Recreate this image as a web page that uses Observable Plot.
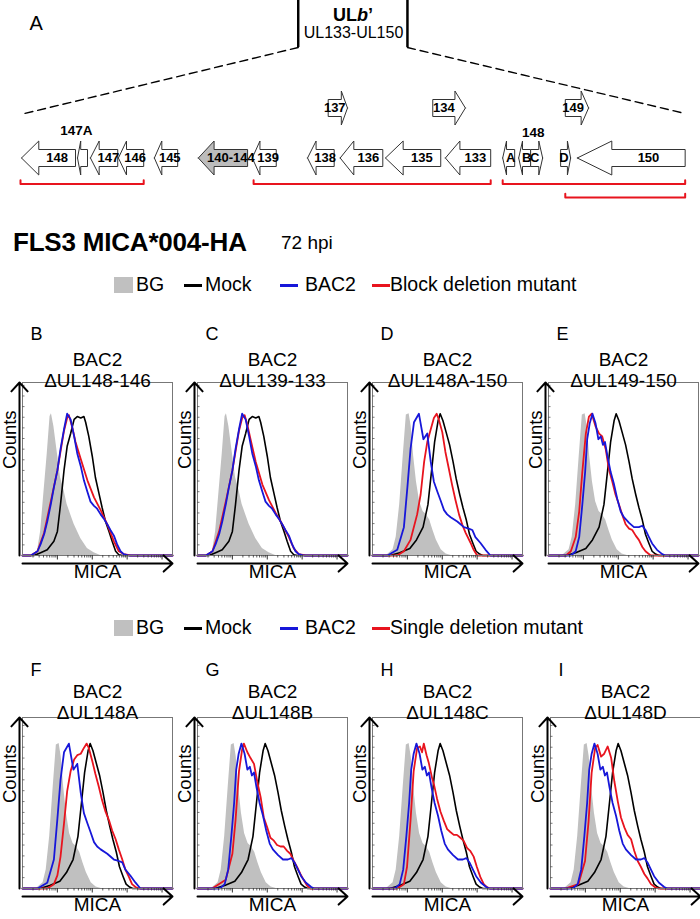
<!DOCTYPE html>
<html><head><meta charset="utf-8">
<script src="https://cdn.jsdelivr.net/npm/d3@7"></script>
<script src="https://cdn.jsdelivr.net/npm/@observablehq/plot@0.6"></script>
<style>
body{margin:0;background:#fff;font-family:"Liberation Sans",Arial,sans-serif;}
#root{position:relative;width:700px;height:919px;overflow:hidden;background:#fff;}
.abs{position:absolute;line-height:1;white-space:nowrap;color:#000;}
.sw{position:absolute;}
</style></head><body><div id="root"></div>
<script>
// ---------------- Panel A: gene map data (relative map position 0-100) ----------------
const GENE_NAMES  = ["148","","147","146","145","140-144","139","138","136","135","133","A","B","C","D","150","137","134","149"];
const GENE_START  = [0.15, 8.56, 10.5, 14.7, 20.1, 26.7, 34.8, 43.1, 48.0, 54.8, 63.8, 72.4, 74.8, 76.6, 81.1, 83.6, 46.2, 61.9, 81.8];
const GENE_END    = [8.26, 10.06, 14.6, 18.5, 23.6, 34.1, 38.4, 47.1, 54.4, 63.1, 70.6, 74.2, 76.6, 78.4, 82.6, 99.8, 49.1, 66.8, 85.3];
const GENE_STRAND = [-1,-1,-1,-1,-1,-1,-1,-1,-1,-1,-1,-1,-1,1,1,-1,1,1,1];
const GENE_TRACK  = [0,0,0,0,0,0,0,0,0,0,0,0,0,0,0,0,1,1,1];
const GENE_SHADED = ["140-144"];
const ABOVE_LABELS = ["147A","148"];
const ABOVE_X = [8.4, 77.0];
const ABOVE_Y = [0.55, 0.51];
const BRACKET_START = [0.0, 35.0, 72.4, 81.8];
const BRACKET_END   = [18.5, 70.6, 99.8, 99.8];
const BRACKET_LEVEL = [-0.52, -0.52, -0.52, -0.79];
const ZOOM_BOX_X = [41.7, 58.1];
const ZOOM_BOX_BOTTOM = 2.21;
const ZOOM_TO_X = [0.0, 99.8];
const ZOOM_TO_Y = [0.87, 0.89];
const REGION_LABEL = "UL133-UL150";

// ---------------- Histogram data: [log10 decade, % of max] ----------------
const BG_BC = [[0,0],[0.29,0],[0.43,3],[0.52,17],[0.62,46],[0.71,72],[0.79,98],[0.83,100],[0.90,91],[1.0,72],[1.09,55],[1.19,46],[1.28,36],[1.38,29],[1.48,22],[1.67,12],[1.86,5],[2.05,2],[2.24,0],[4.3,0]];
const MOCK_BC = [[0,0],[0.33,0],[0.52,2],[0.71,4],[0.90,10],[1.0,17],[1.09,36],[1.19,60],[1.28,77],[1.38,86],[1.48,96],[1.57,98],[1.67,97],[1.76,98],[1.81,94],[1.90,84],[2.0,70],[2.09,55],[2.19,44],[2.28,34],[2.38,24],[2.48,17],[2.57,10],[2.67,3],[2.76,0.5],[2.86,0],[4.3,0]];
const BAC2_BC = [[0,0],[0.24,0],[0.43,3],[0.52,8],[0.62,15],[0.71,24],[0.81,36],[0.90,48],[1.0,60],[1.09,75],[1.19,89],[1.28,100],[1.38,96],[1.48,84],[1.57,72],[1.67,63],[1.76,53],[1.86,45],[1.95,38],[2.05,35],[2.14,33],[2.24,29],[2.33,26],[2.43,22],[2.52,18],[2.62,14],[2.71,8],[2.81,3],[2.90,1],[3.05,0],[4.3,0]];
const MUT_B = [[0,0],[0.24,0],[0.43,3],[0.62,16],[0.81,38],[1.0,60],[1.19,88],[1.28,97],[1.33,99],[1.43,90],[1.52,80],[1.67,68],[1.86,53],[2.05,41],[2.24,32],[2.43,22],[2.62,10],[2.76,3],[2.90,1],[3.1,0],[4.3,0]];
const MUT_C = [[0,0],[0.24,0],[0.43,3],[0.62,17],[0.81,38],[1.0,60],[1.19,88],[1.28,97],[1.35,99],[1.43,92],[1.52,82],[1.67,66],[1.86,50],[2.05,39],[2.24,30],[2.43,22],[2.62,13],[2.76,5],[2.90,1],[3.1,0],[4.3,0]];

const BG_DI = [[0,0],[0.40,0],[0.59,4],[0.68,13],[0.78,36],[0.88,70],[0.97,99],[1.05,100],[1.11,91],[1.18,70],[1.26,52],[1.35,38],[1.45,31],[1.54,29],[1.64,25],[1.73,18],[1.83,11],[1.97,4],[2.11,1],[2.26,0],[4.3,0]];
const MOCK_DI = [[0,0],[0.50,0],[0.78,2],[1.07,5],[1.26,11],[1.45,20],[1.59,36],[1.69,59],[1.78,80],[1.88,95],[1.94,100],[2.02,95],[2.11,87],[2.21,78],[2.31,66],[2.40,54],[2.50,43],[2.59,34],[2.69,25],[2.78,15],[2.88,8.5],[2.97,3],[3.07,1],[3.16,0],[4.3,0]];
const BAC2_DF = [[0,0],[0.43,0],[0.71,4],[0.90,20],[1.0,48],[1.09,75],[1.19,94],[1.33,100],[1.46,82],[1.57,86],[1.67,66],[1.76,52],[1.86,45],[1.95,39],[2.05,32],[2.14,29],[2.24,27],[2.43,24],[2.62,20],[2.76,19],[2.86,18],[2.95,13],[3.09,9],[3.24,4],[3.38,0],[4.3,0]];
const BAC2_EGHI = [[0,0],[0.64,0],[0.78,3],[0.88,13],[0.97,36],[1.05,59],[1.11,82],[1.18,93],[1.26,100],[1.35,93],[1.43,82],[1.50,84],[1.56,78],[1.62,80],[1.69,70],[1.78,59],[1.88,50],[1.97,40],[2.07,31],[2.16,27],[2.31,23],[2.45,20],[2.59,20],[2.69,21],[2.78,18],[2.88,13],[2.97,8.5],[3.11,4],[3.26,1],[3.35,0],[4.3,0]];
const MUT_D = [[0,0],[0.71,0],[0.90,3],[1.09,11],[1.28,29],[1.38,43],[1.48,66],[1.57,80],[1.67,89],[1.76,97],[1.84,100],[1.90,96],[2.0,87],[2.09,73],[2.19,61],[2.28,50],[2.38,39],[2.48,29],[2.57,22],[2.67,16],[2.81,9],[2.90,4],[3.0,0],[4.3,0]];
const MUT_E = [[0,0],[0.50,0],[0.64,3],[0.78,13],[0.88,31],[0.97,59],[1.07,86],[1.16,98],[1.24,100],[1.35,91],[1.45,86],[1.54,84],[1.64,75],[1.73,61],[1.83,52],[1.92,43],[2.02,36],[2.11,29],[2.21,22],[2.31,19],[2.40,18],[2.50,14],[2.59,11],[2.69,6],[2.78,3],[2.93,0],[4.3,0]];
const MUT_F = [[0,0],[0.71,0],[0.90,3],[1.0,9],[1.09,22],[1.19,45],[1.28,67],[1.38,81],[1.48,89],[1.57,92],[1.67,93],[1.76,97],[1.84,100],[1.90,97],[2.0,88],[2.09,79],[2.19,70],[2.28,61],[2.38,53],[2.48,47],[2.57,40],[2.67,34],[2.76,27],[2.86,20],[2.95,13],[3.05,8],[3.14,3],[3.24,1],[3.33,0],[4.3,0]];
const MUT_G = [[0,0],[0.42,0],[0.81,6],[1.0,24],[1.09,47],[1.19,81],[1.28,96],[1.33,100],[1.43,94],[1.52,90],[1.62,86],[1.71,74],[1.81,63],[1.90,49],[2.0,42],[2.09,35],[2.19,33],[2.28,30],[2.38,29],[2.47,29],[2.57,26],[2.66,24],[2.76,19],[2.85,15],[2.95,10],[3.04,6],[3.14,2],[3.24,0],[4.3,0]];
const MUT_H = [[0,0],[0.71,0],[0.90,3],[0.99,15],[1.09,47],[1.18,81],[1.28,97],[1.36,98],[1.42,94],[1.47,100],[1.55,92],[1.61,87],[1.71,76],[1.76,72],[1.85,62],[1.95,53],[2.04,47],[2.14,41],[2.23,39],[2.33,37],[2.42,37],[2.52,35],[2.61,33],[2.71,28],[2.80,26],[2.90,22],[2.99,15],[3.09,8],[3.19,3],[3.28,1],[3.37,0],[4.3,0]];
const MUT_I = [[0,0],[0.42,0],[0.80,3],[0.99,19],[1.09,46],[1.18,80],[1.28,97],[1.35,99],[1.45,91],[1.54,93],[1.64,98],[1.74,90],[1.83,74],[1.93,60],[2.02,49],[2.12,42],[2.21,37],[2.31,34],[2.40,26],[2.50,19],[2.59,15],[2.69,10],[2.78,7],[2.88,3],[2.99,1],[3.09,0],[4.3,0]];

const PANEL_IDS = ["B","C","D","E","F","G","H","I"];
const PANEL_TITLES = ["ΔUL148-146","ΔUL139-133","ΔUL148A-150","ΔUL149-150","ΔUL148A","ΔUL148B","ΔUL148C","ΔUL148D"];
const STRAIN = "BAC2";
const X_LABEL = "MICA";
const Y_LABEL = "Counts";
const LEGEND_1 = ["BG","Mock","BAC2","Block deletion mutant"];
const LEGEND_2 = ["BG","Mock","BAC2","Single deletion mutant"];
const TITLE = "FLS3 MICA*004-HA";
const SUBTITLE = "72 hpi";

const PANELS = [
  {bg: BG_BC, mock: MOCK_BC, bac2: BAC2_BC, mut: MUT_B},
  {bg: BG_BC, mock: MOCK_BC, bac2: BAC2_BC, mut: MUT_C},
  {bg: BG_DI, mock: MOCK_DI, bac2: BAC2_DF, mut: MUT_D},
  {bg: BG_DI, mock: MOCK_DI, bac2: BAC2_EGHI, mut: MUT_E},
  {bg: BG_DI, mock: MOCK_DI, bac2: BAC2_DF, mut: MUT_F},
  {bg: BG_DI, mock: MOCK_DI, bac2: BAC2_EGHI, mut: MUT_G},
  {bg: BG_DI, mock: MOCK_DI, bac2: BAC2_EGHI, mut: MUT_H},
  {bg: BG_DI, mock: MOCK_DI, bac2: BAC2_EGHI, mut: MUT_I}
];

// ---------------- styling ----------------
const FONT = "'Liberation Sans', Arial, sans-serif";
const RED = "#e8141e", BLUE = "#1717d9", GRAY = "#c0c0c0";
const XMAX = 4.3;
const root = document.getElementById("root");

function place(el, left, top) { el.style.position = "absolute"; el.style.left = left + "px"; el.style.top = top + "px"; root.appendChild(el); return el; }
function txt(s, left, top, css) { const d = document.createElement("div"); d.className = "abs"; d.textContent = s; Object.assign(d.style, css || {}); return place(d, left, top); }

// ---------------- Panel A ----------------
(function geneMap() {
  const HH = 0.34, BH = 0.17, HEAD = 0.32;
  const polys = [];
  GENE_NAMES.forEach((name, i) => {
    const a = GENE_START[i], b = GENE_END[i], y0 = GENE_TRACK[i], h = HEAD * (b - a);
    let pts;
    if (GENE_STRAND[i] < 0) {
      pts = [[a,y0],[a+h,y0+HH],[a+h,y0+BH],[b,y0+BH],[b,y0-BH],[a+h,y0-BH],[a+h,y0-HH],[a,y0]];
    } else {
      pts = [[b,y0],[b-h,y0+HH],[b-h,y0+BH],[a,y0+BH],[a,y0-BH],[b-h,y0-BH],[b-h,y0-HH],[b,y0]];
    }
    pts.forEach(p => polys.push({gene: i, name, shaded: GENE_SHADED.includes(name), x: p[0], y: p[1]}));
  });
  const labels = GENE_NAMES.map((name, i) => {
    const a = GENE_START[i], b = GENE_END[i], h = HEAD * (b - a);
    const cx = GENE_STRAND[i] < 0 ? (a + h + b) / 2 : (a + b - h) / 2;
    return {name, x: cx, y: GENE_TRACK[i]};
  }).filter(d => d.name);
  const brackets = [];
  BRACKET_START.forEach((s, i) => {
    const e = BRACKET_END[i], L = BRACKET_LEVEL[i], t = 0.075;
    [[s, L + t],[s, L],[e, L],[e, L + t]].forEach(p => brackets.push({k: i, x: p[0], y: p[1]}));
  });
  const zoomLines = [];
  ZOOM_BOX_X.forEach((x, i) => { zoomLines.push({k: i, x, y: ZOOM_BOX_BOTTOM}); zoomLines.push({k: i, x: ZOOM_TO_X[i], y: ZOOM_TO_Y[i]}); });
  const svg = Plot.plot({
    width: 700, height: 210, margin: 0,
    style: {fontFamily: FONT, background: "transparent", overflow: "visible"},
    x: {domain: [0, 100], range: [20, 686], axis: null},
    y: {domain: [-1.05, 3.15], range: [210, 0], axis: null},
    marks: [
      Plot.ruleX(ZOOM_BOX_X, {x: d => d, y1: ZOOM_BOX_BOTTOM, y2: 3.15, stroke: "#000", strokeWidth: 2.5}),
      Plot.line(zoomLines, {x: "x", y: "y", z: "k", stroke: "#000", strokeWidth: 1.4, strokeDasharray: "8,5"}),
      Plot.text([REGION_LABEL], {x: 50, y: 2.51, fontSize: 16}),
      Plot.line(polys.filter(d => !d.shaded), {x: "x", y: "y", z: "gene", fill: "#fff", stroke: "#333", strokeWidth: 1, curve: "linear"}),
      Plot.line(polys.filter(d => d.shaded), {x: "x", y: "y", z: "gene", fill: "#bcbcbc", stroke: "#333", strokeWidth: 1, curve: "linear"}),
      Plot.text(labels, {x: "x", y: "y", text: "name", fontSize: 13, fontWeight: "bold"}),
      Plot.text(ABOVE_LABELS, {x: (d, i) => ABOVE_X[i], y: (d, i) => ABOVE_Y[i], text: d => d, fontSize: 13.5, fontWeight: "bold"}),
      Plot.line(brackets, {x: "x", y: "y", z: "k", stroke: "#e8141e", strokeWidth: 2}),
      Plot.text(["A"], {frameAnchor: "top-left", dx: 29, dy: 15, textAnchor: "start", fontSize: 20})
    ]
  });
  place(svg, 0, 0);
  const ul = document.createElement("div");
  ul.className = "abs";
  ul.innerHTML = "<b>UL<i>b</i>’</b>";
  Object.assign(ul.style, {fontSize: "18px", transform: "translateX(-50%)"});
  place(ul, 353, 6);
})();

// ---------------- Title ----------------
txt(TITLE, 13, 229, {fontSize: "26px", fontWeight: "bold", letterSpacing: "-0.2px"});
txt(SUBTITLE, 281, 233, {fontSize: "19px"});

// ---------------- Legends ----------------
function legend(labels, cy) {
  const swLeft = [114, 184, 280, 372], txLeft = [136, 205, 305, 390];
  const sq = document.createElement("div"); sq.className = "sw";
  Object.assign(sq.style, {width: "19px", height: "16px", background: GRAY}); place(sq, swLeft[0], cy - 8);
  [["#000", 1], [BLUE, 2], [RED, 3]].forEach(([c, i]) => {
    const l = document.createElement("div"); l.className = "sw";
    Object.assign(l.style, {width: "18px", height: "3px", background: c}); place(l, swLeft[i], cy - 1.5);
  });
  labels.forEach((s, i) => txt(s, txLeft[i], cy - 10, {fontSize: "19.5px"}));
}
legend(LEGEND_1, 285);
legend(LEGEND_2, 628);

// ---------------- Histogram panels ----------------
const X_MAJOR = [1, 2, 3, 4];
const X_MINOR = [];
for (let dec = 0; dec < 5; dec++) for (let k = 2; k < 10; k++) { const v = dec + Math.log10(k); if (v < XMAX) X_MINOR.push(v); }
const ROWS = [
  {top: 317, frameH: 173, bottom: 35, yMax: 122, letterDy: -55, t1Dy: -30, t2Dy: -9, lefts: [0, 175, 350, 526]},
  {top: 652, frameH: 171, bottom: 35, yMax: 118, letterDy: -54, t1Dy: -33, t2Dy: -12, lefts: [0, 175, 350, 528]}
];
function makePanel(i) {
  const row = ROWS[Math.floor(i / 4)], p = PANELS[i];
  const H = 65 + row.frameH + row.bottom;
  const uy = row.yMax / row.frameH, ux = XMAX / 150;
  const xy = {x: d => d[0], y: d => d[1]};
  const yTicks = d3.range(7.5, row.yMax, 7.5);
  const svg = Plot.plot({
    width: 175, height: H,
    marginTop: 65, marginLeft: 22, marginRight: 3, marginBottom: row.bottom,
    style: {fontFamily: FONT, background: "transparent", overflow: "visible"},
    x: {domain: [0, XMAX], axis: null},
    y: {domain: [0, row.yMax], axis: null},
    marks: [
      Plot.areaY(p.bg, {x: d => d[0], y: d => d[1], fill: GRAY}),
      Plot.line(p.mock, {...xy, stroke: "#000", strokeWidth: 1.6}),
      Plot.line(p.mut, {...xy, stroke: RED, strokeWidth: 1.8}),
      Plot.line(p.bac2, {...xy, stroke: BLUE, strokeWidth: 1.8}),
      Plot.frame({stroke: "#777", strokeWidth: 1}),
      Plot.ruleX(X_MINOR, {x: d => d, y1: 0, y2: -2.5 * uy, stroke: "#333", strokeWidth: 0.8}),
      Plot.ruleX(X_MAJOR, {x: d => d, y1: 0, y2: -4.5 * uy, stroke: "#333", strokeWidth: 1}),
      Plot.ruleY(yTicks, {y: d => d, x1: 0, x2: 2.5 * ux, stroke: "#555", strokeWidth: 0.8}),
      Plot.arrow([0], {x1: 0, x2: 0, y1: 0, y2: row.yMax, dx: -3, stroke: "#000", strokeWidth: 2, headLength: 9, headAngle: 85}),
      Plot.arrow([0], {x1: 0, x2: XMAX, y1: 0, y2: 0, dy: 8, stroke: "#000", strokeWidth: 2, headLength: 9, headAngle: 85}),
      Plot.text([Y_LABEL], {frameAnchor: "left", rotate: -90, dx: -12, fontSize: 18.5}),
      Plot.text([X_LABEL], {frameAnchor: "bottom", dy: 22, fontSize: 19}),
      Plot.text([PANEL_IDS[i]], {frameAnchor: "top-left", dx: 8, dy: row.letterDy, textAnchor: "start", fontSize: 18}),
      Plot.text([STRAIN], {frameAnchor: "top", dy: row.t1Dy, fontSize: 19}),
      Plot.text([PANEL_TITLES[i]], {frameAnchor: "top", dy: row.t2Dy, fontSize: 19})
    ]
  });
  place(svg, row.lefts[i % 4], row.top);
}
for (let i = 0; i < 8; i++) makePanel(i);
</script></body></html>
